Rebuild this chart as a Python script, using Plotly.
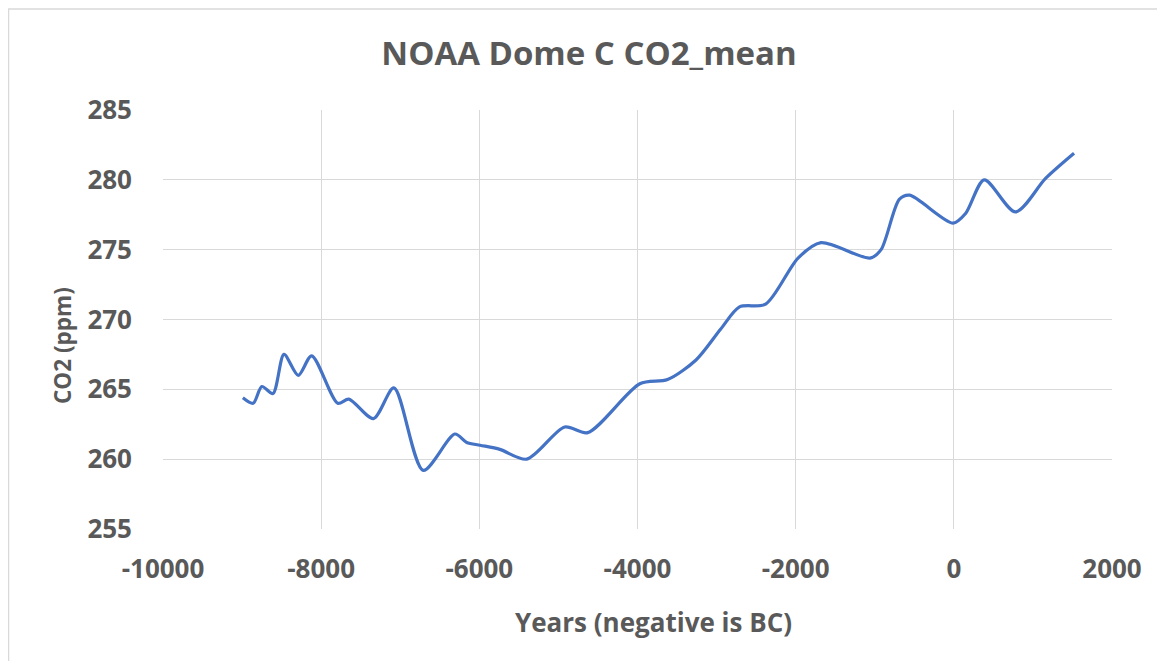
import plotly.graph_objects as go

years = [-8990, -8860, -8750, -8610, -8470, -8290, -8120, -7790, -7650, -7340, -7080,
         -6710, -6310, -6160, -5990, -5740, -5400, -4920, -4630, -3970, -3620, -3260,
         -2950, -2710, -2380, -1970, -1680, -1060, -920, -690, -560, -10, 150, 385,
         780, 1160, 1520]
co2 = [264.4, 264.0, 265.2, 264.7, 267.5, 266.0, 267.4, 264.0, 264.3, 262.9, 265.1,
       259.2, 261.8, 261.2, 261.0, 260.7, 260.0, 262.3, 261.9, 265.4, 265.7, 267.1,
       269.3, 270.9, 271.1, 274.4, 275.5, 274.4, 275.0, 278.6, 278.9, 276.9, 277.6, 280.0,
       277.7, 280.1, 281.9]

x_ticks = [-10000, -8000, -6000, -4000, -2000, 0, 2000]
y_ticks = [255, 260, 265, 270, 275, 280, 285]

# page body has an 8px margin, so the figure is drawn 8px smaller and offset
W, H = 1157, 653
L, R, T, B = 155, 53, 102, 132
pw, ph = W - L - R, H - T - B

grey = "#595959"
font_family = "Open Sans, Liberation Sans, sans-serif"

fig = go.Figure()
fig.add_trace(go.Scatter(
    x=years, y=co2, mode="lines",
    line=dict(color="#4472C4", width=3.2, shape="spline", smoothing=0.8),
    hoverinfo="x+y", showlegend=False,
))

fig.update_layout(
    width=W, height=H,
    margin=dict(l=L, r=R, t=T, b=B),
    paper_bgcolor="white", plot_bgcolor="white",
    title=dict(text="NOAA Dome C CO2_mean", x=581 / W, xanchor="center",
               y=1 - 45 / H, yanchor="middle",
               font=dict(family=font_family, size=33, color=grey, weight="bold")),
    font=dict(family=font_family, color=grey),
)
fig.update_xaxes(
    range=[-10000, 2000], tickvals=x_ticks, ticktext=[str(v) for v in x_ticks],
    showgrid=True, gridcolor="#d9d9d9", gridwidth=1, zeroline=False,
    showline=False, ticks="", ticklabelstandoff=22,
    tickfont=dict(family=font_family, size=26, color=grey, weight="bold"),
)
fig.update_yaxes(
    range=[255, 285], tickvals=y_ticks,
    showgrid=True, gridcolor="#d9d9d9", gridwidth=1, zeroline=False,
    showline=False, ticks="", ticklabelstandoff=30,
    tickfont=dict(family=font_family, size=26, color=grey, weight="bold"),
)
# axis titles, placed as in the reference (slightly off the plot-area centre)
fig.add_annotation(text="Years (negative is BC)", xref="paper", yref="paper",
                   x=(645 - L) / pw, y=-(614 - T - ph) / ph,
                   xanchor="center", yanchor="middle", showarrow=False,
                   font=dict(family=font_family, size=26, color=grey, weight="bold"))
fig.add_annotation(text="CO2 (ppm)", xref="paper", yref="paper", textangle=-90,
                   x=(54 - L) / pw, y=1 - (338 - T) / ph,
                   xanchor="center", yanchor="middle", showarrow=False,
                   font=dict(family=font_family, size=22.5, color=grey, weight="bold"))
# light outer frame of the chart area (only top and left edges visible)
fig.add_shape(type="rect", xref="paper", yref="paper",
              x0=(0.5 - L) / pw, x1=(W + 10 - L) / pw,
              y0=-(B + 10) / ph, y1=1 + (T - 1) / ph,
              line=dict(color="#d9d9d9", width=1.5), fillcolor="rgba(0,0,0,0)", layer="below")

fig.write_html("out.html")
